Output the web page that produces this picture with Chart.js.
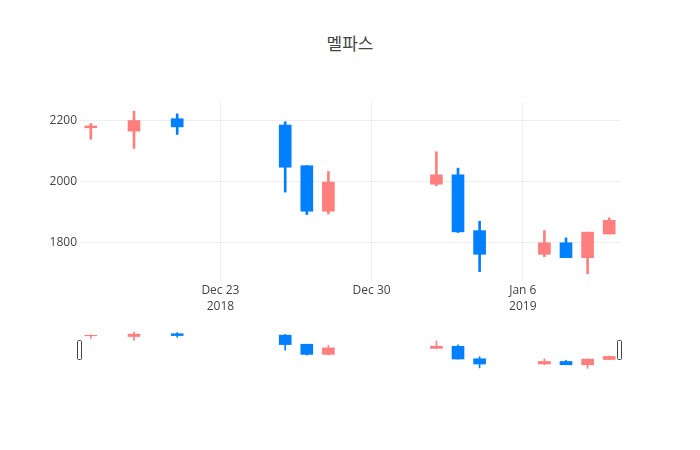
<!DOCTYPE html>
<html lang="ko">
<head>
  <meta charset="UTF-8" />
  <title>멜파스</title>
  <style>
    body { margin: 0; background: #fff; }
    .wrap { position: absolute; left: 0; top: 0; width: 700px; height: 450px; }
    #title {
      position: absolute; left: 0; top: 33px; width: 700px;
      text-align: center; font: 17px "Noto Sans CJK KR", sans-serif; color: #444;
      line-height: 20px;
    }
  </style>
</head>
<body>
  <div id="title">멜파스</div>
  <div class="wrap"><canvas id="mainChart"></canvas></div>
  <div class="wrap"><canvas id="sliderChart"></canvas></div>

  <script src="https://cdn.jsdelivr.net/npm/chart.js"></script>
  <script>
    // 일별 시세
    const dates = ['2018-12-17', '2018-12-19', '2018-12-21', '2018-12-26', '2018-12-27', '2018-12-28',
                   '2019-01-02', '2019-01-03', '2019-01-04', '2019-01-07', '2019-01-08', '2019-01-09', '2019-01-10'];
    const openP  = [2177, 2166, 2207, 2186, 2052, 1902, 1991, 2022, 1838, 1760, 1798, 1749, 1827];
    const highP  = [2191, 2232, 2223, 2197, 2052, 2033, 2098, 2044, 1869, 1838, 1814, 1833, 1880];
    const lowP   = [2139, 2109, 2155, 1965, 1891, 1893, 1986, 1832, 1703, 1752, 1749, 1696, 1827];
    const closeP = [2183, 2201, 2180, 2047, 1902, 1998, 2022, 1834, 1760, 1798, 1749, 1833, 1872];

    const tickDates  = ['2018-12-23', '2018-12-30', '2019-01-06'];
    const tickLabels = [['Dec 23', '2018'], ['Dec 30'], ['Jan 6', '2019']];
    const yTicks = [1800, 2000, 2200];

    const UP = '#FF7F7F';    // 상승
    const DOWN = '#007FFF';  // 하락
    const yMin = 1672, yMax = 2262;

    const dayOf = s => (Date.parse(s) - Date.parse('2018-12-23')) / 86400000;
    const xs = dates.map(dayOf);
    const xMin = dayOf('2018-12-17') - 0.5;
    const xMax = dayOf('2019-01-10') + 0.5;
    const colors = openP.map((o, i) => closeP[i] >= o ? UP : DOWN);

    function candleSets(wickW, bodyW) {
      return [
        {
          data: xs.map((x, i) => ({ x: x, y: [lowP[i], highP[i]] })),
          backgroundColor: colors, barThickness: wickW, grouped: false, borderWidth: 0
        },
        {
          data: xs.map((x, i) => ({ x: x, y: [openP[i], closeP[i]] })),
          backgroundColor: colors, barThickness: bodyW, grouped: false, borderWidth: 0
        }
      ];
    }

    const tickFont = { family: '"Open Sans", sans-serif', size: 12, lineHeight: 1.3 };

    new Chart(document.getElementById('mainChart'), {
      type: 'bar',
      data: { datasets: candleSets(2, 12) },
      options: {
        responsive: true,
        maintainAspectRatio: false,
        animation: false,
        layout: { padding: { left: 0, right: 80, top: 102, bottom: 0 } },
        plugins: { legend: { display: false }, tooltip: { enabled: false } },
        scales: {
          x: {
            type: 'linear', min: xMin, max: xMax, offset: false,
            grid: { color: '#eee', drawTicks: false, offset: false },
            border: { display: false },
            afterBuildTicks: s => { s.ticks = tickDates.map(d => ({ value: dayOf(d) })); },
            afterFit: s => { s.height = 450 - 281; },
            ticks: {
              padding: 2, color: '#444', font: tickFont, maxRotation: 0, autoSkip: false,
              callback: (v, i) => tickLabels[i]
            }
          },
          y: {
            min: yMin, max: yMax,
            grid: { color: '#eee', drawTicks: false },
            border: { display: false },
            afterBuildTicks: s => { s.ticks = yTicks.map(v => ({ value: v })); },
            afterFit: s => { s.width = 80; },
            ticks: { padding: 3, color: '#444', font: tickFont, callback: v => String(v) }
          }
        }
      }
    });

    // 레인지 슬라이더 핸들
    const handles = {
      id: 'handles',
      afterDraw(c) {
        const { ctx, chartArea: a } = c;
        const mid = (a.top + a.bottom) / 2;
        ctx.save();
        ctx.fillStyle = '#fff';
        ctx.strokeStyle = '#444';
        ctx.lineWidth = 1;
        [a.left, a.right].forEach(x => {
          const left = Math.round(x) - 2.5;
          ctx.beginPath();
          if (ctx.roundRect) ctx.roundRect(left, mid - 9.5, 4, 19, 1);
          else ctx.rect(left, mid - 9.5, 4, 19);
          ctx.fill();
          ctx.stroke();
        });
        ctx.restore();
      }
    };

    new Chart(document.getElementById('sliderChart'), {
      type: 'bar',
      data: { datasets: candleSets(1, 12) },
      options: {
        responsive: true,
        maintainAspectRatio: false,
        animation: false,
        layout: { padding: { left: 80, right: 80, top: 330, bottom: 80 } },
        plugins: { legend: { display: false }, tooltip: { enabled: false } },
        scales: {
          x: { type: 'linear', display: false, min: xMin, max: xMax, offset: false },
          y: { display: false, min: yMin, max: yMax }
        }
      },
      plugins: [handles]
    });
  </script>
</body>
</html>
